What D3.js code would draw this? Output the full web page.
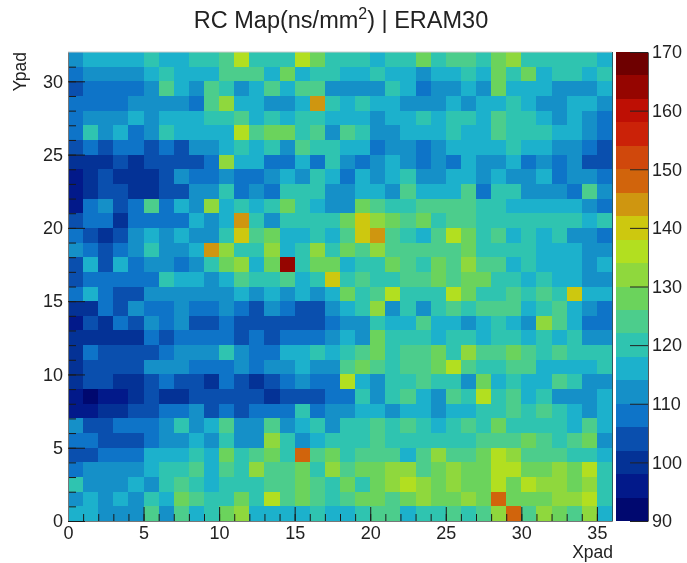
<!DOCTYPE html>
<html lang="en">
<head>
    <meta charset="UTF-8">
    <title>RC Map</title>

    <script src="https://d3js.org/d3.v7.min.js"></script>

    <style>
        body {
            margin: 0;
            background: #fff;
        }

        svg {
            display: block;
            font-family: "Liberation Sans", sans-serif;
            filter: blur(0.6px);
        }

        .tick text {
            font-size: 18px;
            fill: #222;
        }
    </style>

    <script>

        const TITLE = "ERAM30";
        const X_TICKS = [0, 5, 10, 15, 20, 25, 30, 35];
        const Y_TICKS = [0, 5, 10, 15, 20, 25, 30];
        const Z_TICKS = [90, 100, 110, 120, 130, 140, 150, 160, 170];

        // 20 contour colours, low to high
        const PALETTE = [
            "#00086f", "#02198a", "#043296", "#0a4fae", "#0e74c8",
            "#1590c8", "#1cb1cc", "#2fc4b0", "#4ccd8c", "#6bd35c",
            "#8fd83d", "#b2df20", "#cdc80f", "#cf9610", "#d1640c",
            "#d0480c", "#cb2208", "#be0f04", "#950500", "#6e0000"
        ];

        // RC per pad, first row is Ypad 31, last row is Ypad 0
        const RC_VALUES = [
            [112,116,116,116,116,120,116,116,120,120,124,136,120,120,120,136,128,120,120,120,116,120,120,128,120,124,124,120,128,132,120,120,120,120,120,116],
            [108,112,112,112,112,116,120,116,116,116,124,124,124,116,128,116,120,120,116,116,120,116,116,112,116,116,120,116,128,120,128,116,120,120,116,120],
            [104,108,108,108,108,112,124,116,112,124,120,112,116,124,116,124,124,112,112,112,112,120,116,108,112,112,116,112,128,116,116,116,112,112,112,116],
            [108,108,108,108,112,112,112,112,108,124,132,116,116,112,112,116,144,120,116,120,116,116,112,112,112,116,112,116,116,120,116,112,112,116,116,112],
            [108,112,112,112,116,112,116,116,116,120,120,124,116,120,116,120,120,116,116,116,112,116,116,120,116,120,120,116,124,120,120,116,112,116,112,108],
            [108,120,112,116,108,112,120,116,116,116,116,136,124,128,128,120,124,112,124,120,112,112,116,116,116,120,116,116,124,120,120,120,116,116,112,108],
            [104,108,104,108,108,104,108,104,112,112,116,120,116,120,112,124,120,120,116,116,108,112,112,108,112,116,116,116,116,120,116,116,112,112,108,104],
            [100,100,100,104,100,104,104,104,104,108,132,116,116,108,108,116,108,120,112,108,112,116,112,108,112,108,116,112,112,116,108,112,108,112,104,104],
            [96,100,104,100,100,100,104,112,108,108,112,108,108,112,116,112,120,116,108,116,112,116,120,112,112,116,116,112,116,112,112,116,108,112,112,108],
            [96,100,104,104,100,100,104,104,112,112,120,108,112,108,120,120,120,112,112,116,116,112,124,116,116,116,124,108,120,120,112,112,112,108,124,112],
            [96,108,112,104,108,124,108,116,112,132,116,120,116,120,128,120,116,112,112,128,124,120,120,124,124,124,124,120,120,116,116,116,116,116,112,108],
            [104,108,108,100,108,108,108,108,116,112,116,144,120,112,120,120,120,120,128,140,132,128,124,128,120,124,124,120,120,120,120,120,120,120,116,120],
            [108,104,100,104,112,116,112,116,112,112,120,140,124,128,116,116,120,116,124,140,144,124,120,116,124,136,128,120,124,116,120,116,120,112,112,108],
            [112,108,104,108,112,120,112,112,116,144,132,120,120,132,116,120,132,120,128,124,132,124,124,124,124,124,128,120,120,120,120,116,116,116,112,112],
            [104,116,104,116,108,112,112,108,112,120,128,132,116,128,164,120,128,128,116,120,120,128,124,120,128,124,132,124,124,116,120,116,116,116,112,116],
            [104,108,108,108,108,108,120,116,116,112,116,124,120,120,124,116,120,140,120,124,120,120,124,124,128,124,128,128,120,120,116,120,116,116,112,112],
            [108,116,108,104,104,112,112,112,112,112,112,116,112,116,112,116,112,116,128,120,124,136,120,120,120,136,128,120,120,124,120,124,120,140,116,116],
            [100,100,108,104,112,108,108,112,108,108,112,108,104,112,108,104,104,112,116,120,132,112,120,112,120,124,120,124,124,124,116,120,124,116,112,108],
            [96,104,100,108,104,112,108,112,104,104,108,104,104,104,104,104,104,108,112,112,120,116,116,124,116,116,112,116,120,116,112,132,124,116,108,108],
            [100,100,100,100,100,108,104,108,108,108,108,104,108,104,108,108,108,112,116,112,128,120,120,120,116,120,120,116,120,120,116,120,116,120,112,112],
            [100,108,104,104,104,104,108,112,112,112,120,112,108,108,116,116,120,116,120,124,128,120,124,124,128,120,132,124,124,128,124,120,124,120,120,120],
            [100,104,104,104,104,112,112,112,108,108,108,112,108,112,112,116,112,112,124,128,124,120,124,124,128,136,124,120,120,124,124,116,116,116,116,120],
            [100,104,104,100,100,104,108,104,104,100,108,104,100,104,108,112,108,108,136,116,112,120,120,124,120,120,112,128,116,120,116,116,124,120,112,112],
            [96,92,96,96,100,104,100,100,104,104,104,104,104,100,104,104,104,108,108,120,112,120,124,116,112,124,120,136,120,124,116,120,112,112,112,116],
            [96,96,100,100,104,104,108,108,112,104,108,104,108,108,108,120,108,112,112,116,116,112,116,116,112,116,116,120,120,124,120,124,120,116,112,116],
            [112,104,104,108,108,108,112,120,112,116,124,112,112,124,112,116,120,112,120,120,124,120,124,120,116,120,124,120,128,120,120,120,120,116,124,116],
            [108,108,104,104,104,108,112,112,116,112,120,112,112,132,120,112,116,120,120,120,124,120,120,120,120,120,120,124,124,124,128,124,120,124,128,112],
            [104,104,108,108,108,116,116,116,120,116,128,120,124,128,120,148,124,128,120,124,124,124,116,124,132,124,124,128,136,132,124,124,124,120,120,116],
            [108,112,112,112,112,116,120,120,124,116,124,120,132,124,124,128,120,132,124,128,128,132,132,124,128,132,128,128,136,136,128,128,132,128,136,120],
            [120,112,112,112,116,112,120,124,120,116,120,120,120,124,124,128,124,120,128,120,128,132,136,132,128,132,128,128,136,128,136,132,132,128,132,120],
            [112,116,112,116,112,120,116,128,124,120,120,128,120,136,124,128,124,120,124,128,128,124,128,132,128,128,132,128,148,128,128,128,132,132,136,120],
            [116,116,112,112,112,124,112,124,116,120,128,132,116,116,116,116,120,116,116,120,124,124,116,120,120,124,120,124,132,148,124,132,128,124,132,116]
        ];

        document.addEventListener("DOMContentLoaded", () => makeGraph());

        function makeGraph() {

            const width = 687;
            const height = 563;

            const plot = {left: 68, right: 612, top: 52, bottom: 521};
            const bar = {left: 616, right: 648};
            const nX = RC_VALUES[0].length;
            const nY = RC_VALUES.length;

            const svg = d3.select("#graph").attr("width", width).attr("height", height);

            const x = d3.scaleLinear().domain([0, nX]).range([plot.left, plot.right]);
            const y = d3.scaleLinear().domain([0, nY]).range([plot.bottom, plot.top]);
            const z = d3.scaleLinear().domain([90, 170]).range([plot.bottom, plot.top]);
            const color = d3.scaleQuantize().domain([90, 170]).range(PALETTE);

            const cells = [];
            RC_VALUES.forEach(function(row, r) {
                row.forEach(function(value, c) {
                    cells.push({xpad: c, ypad: nY - 1 - r, value: value});
                });
            });

            svg.append("g")
                .selectAll("rect")
                .data(cells)
                .join("rect")
                .attr("x", d => x(d.xpad))
                .attr("y", d => y(d.ypad + 1))
                .attr("width", d => x(d.xpad + 1) - x(d.xpad))
                .attr("height", d => y(d.ypad) - y(d.ypad + 1))
                .attr("fill", d => color(d.value))
                .attr("shape-rendering", "crispEdges");

            // minor ticks first, then the labelled ones
            svg.append("g")
                .attr("transform", "translate(0," + plot.bottom + ")")
                .call(d3.axisBottom(x).tickValues(d3.range(0, nX)).tickSize(-7).tickSizeOuter(0).tickFormat(""))
                .call(styleAxis);
            svg.append("g")
                .attr("transform", "translate(0," + plot.bottom + ")")
                .call(d3.axisBottom(x).tickValues(X_TICKS).tickSize(-14).tickSizeOuter(0).tickPadding(5))
                .call(styleAxis);

            svg.append("g")
                .attr("transform", "translate(" + plot.left + ",0)")
                .call(d3.axisLeft(y).tickValues(d3.range(0, nY)).tickSize(-8).tickSizeOuter(0).tickFormat(""))
                .call(styleAxis);
            svg.append("g")
                .attr("transform", "translate(" + plot.left + ",0)")
                .call(d3.axisLeft(y).tickValues(Y_TICKS).tickSize(-17).tickSizeOuter(0).tickPadding(5))
                .call(styleAxis);

            // frame top and right
            svg.append("line")
                .attr("x1", plot.left).attr("x2", plot.right)
                .attr("y1", plot.top).attr("y2", plot.top)
                .attr("stroke", "#ccc");
            svg.append("line")
                .attr("x1", plot.right + 0.5).attr("x2", plot.right + 0.5)
                .attr("y1", plot.top).attr("y2", plot.bottom)
                .attr("stroke", "#2a5a60");

            // colour bar
            svg.append("g")
                .selectAll("rect")
                .data(PALETTE)
                .join("rect")
                .attr("x", bar.left)
                .attr("width", bar.right - bar.left)
                .attr("y", (d, i) => z(90 + (i + 1) * 4))
                .attr("height", (d, i) => z(90 + i * 4) - z(90 + (i + 1) * 4))
                .attr("fill", d => d)
                .attr("shape-rendering", "crispEdges");

            svg.append("g")
                .attr("transform", "translate(" + bar.right + ",0)")
                .call(d3.axisRight(z).tickValues(Z_TICKS).tickSize(-18).tickSizeOuter(0).tickPadding(4))
                .call(g => g.select(".domain").attr("stroke", "#555"))
                .call(g => g.selectAll(".tick line").attr("stroke", "#222"));

            const title = svg.append("text")
                .attr("x", 341)
                .attr("y", 28)
                .attr("text-anchor", "middle")
                .attr("font-size", 23.5)
                .attr("fill", "#222");
            title.append("tspan").text("RC Map(ns/mm");
            title.append("tspan").attr("dy", -9).attr("font-size", 16).text("2");
            title.append("tspan").attr("dy", 9).text(") | " + TITLE);

            svg.append("text")
                .attr("x", 613)
                .attr("y", 558)
                .attr("text-anchor", "end")
                .attr("font-size", 17.5)
                .attr("fill", "#222")
                .text("Xpad");

            svg.append("text")
                .attr("transform", "translate(26,52) rotate(-90)")
                .attr("text-anchor", "end")
                .attr("font-size", 17.5)
                .attr("fill", "#222")
                .text("Ypad");
        }

        function styleAxis(g) {
            g.select(".domain").attr("stroke", "#777");
            g.selectAll(".tick line").attr("stroke", "#1a1a1a");
        }

    </script>

</head>
<body>
        <svg id="graph"></svg>
</body>
</html>
